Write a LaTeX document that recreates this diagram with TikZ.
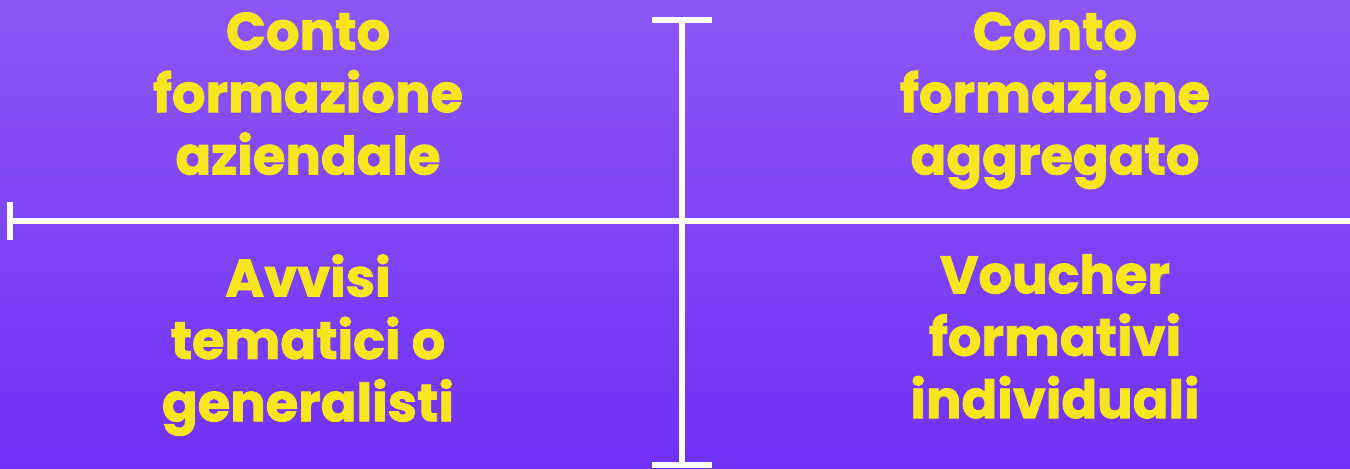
\documentclass[tikz,border=0pt]{standalone}
\usepackage{fontspec}
\setmainfont{Poppins}[BoldFeatures={FakeBold=1.6}]
\usepackage{tikz}
\usetikzlibrary{positioning, calc}
\definecolor{violaalto}{RGB}{140, 86, 247}
\definecolor{violabasso}{RGB}{113, 49, 245}
\definecolor{giallo}{RGB}{245, 230, 30}

\begin{document}
\begin{tikzpicture}[
    x=0.02cm, y=0.02cm,
    testo/.style={align=center, text=giallo, inner sep=0pt, anchor=north,
                  font=\fontsize{30}{35.5}\selectfont\bfseries},
    linea/.style={draw=white, line width=3pt}
  ]
    \shade[top color=violaalto, bottom color=violabasso] (0,0) rectangle (1350,469);
    \useasboundingbox (0,0) rectangle (1350,469);

    % croce
    \coordinate (su) at (682,449);
    \coordinate (giu) at (682,4);
    \coordinate (sx) at (10,248);
    \coordinate (dx) at (1350,248);
    \draw[linea] (su) -- (giu);
    \draw[linea] (sx) -- (dx);
    \draw[linea] ($(su)+(-30,0)$) -- ($(su)+(30,0)$);
    \draw[linea] ($(giu)+(-30,0)$) -- ($(giu)+(30,0)$);
    \draw[linea] ($(sx)+(0,-19)$) -- ($(sx)+(0,19)$);

    % quadranti
    \node[testo] (aziendale) at (308,457) {Conto\\formazione\\aziendale};
    \node[testo] (aggregato) at (1055,457) {Conto\\formazione\\aggregato};
    \node[testo] (avvisi) at (308,215) {Avvisi\\tematici o\\generalisti};
    \node[testo] (voucher) at (1055,215) {Voucher\\formativi\\individuali};
  \end{tikzpicture}
\end{document}
